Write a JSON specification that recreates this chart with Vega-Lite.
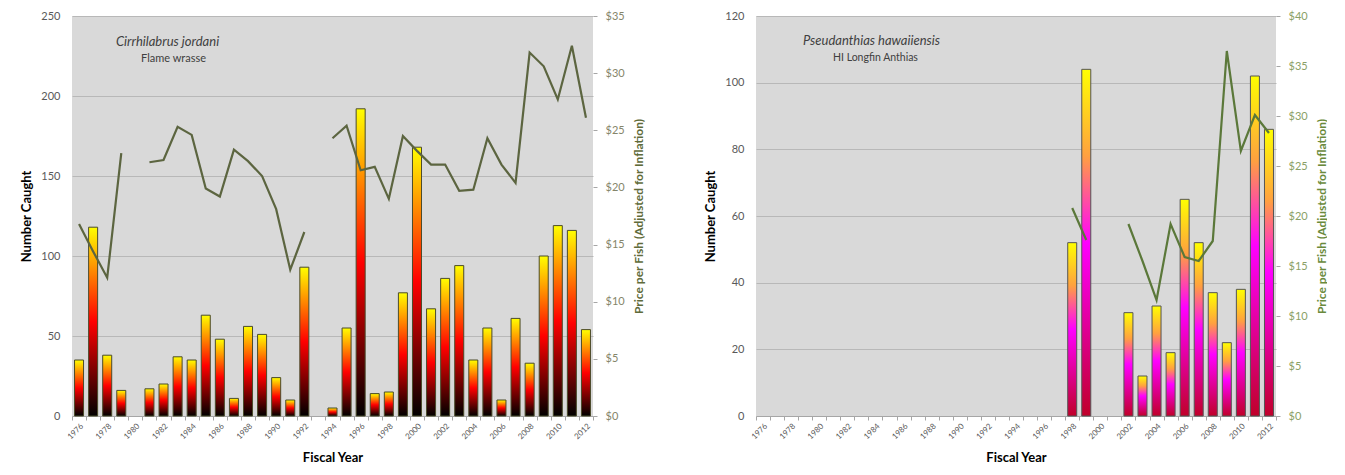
{
  "$schema": "https://vega.github.io/schema/vega-lite/v6.json",
  "background": "white",
  "padding": {"left": 20, "top": 10, "right": 0, "bottom": 0},
  "config": {
    "font": "Lato",
    "view": {"fill": "#d9d9d9", "stroke": null},
    "concat": {"spacing": 60}
  },
  "datasets": {
    "flame": [
      {"year": 1976, "count": 35, "price": 16.8},
      {"year": 1977, "count": 118, "price": 14.4},
      {"year": 1978, "count": 38, "price": 12.1},
      {"year": 1979, "count": 16, "price": 23.0},
      {"year": 1980, "count": null, "price": null},
      {"year": 1981, "count": 17, "price": 22.2},
      {"year": 1982, "count": 20, "price": 22.4},
      {"year": 1983, "count": 37, "price": 25.3},
      {"year": 1984, "count": 35, "price": 24.6},
      {"year": 1985, "count": 63, "price": 19.9},
      {"year": 1986, "count": 48, "price": 19.2},
      {"year": 1987, "count": 11, "price": 23.3},
      {"year": 1988, "count": 56, "price": 22.3},
      {"year": 1989, "count": 51, "price": 21.0},
      {"year": 1990, "count": 24, "price": 18.1},
      {"year": 1991, "count": 10, "price": 12.8},
      {"year": 1992, "count": 93, "price": 16.1},
      {"year": 1993, "count": null, "price": null},
      {"year": 1994, "count": 5, "price": 24.3},
      {"year": 1995, "count": 55, "price": 25.4},
      {"year": 1996, "count": 192, "price": 21.5},
      {"year": 1997, "count": 14, "price": 21.8},
      {"year": 1998, "count": 15, "price": 19.0},
      {"year": 1999, "count": 77, "price": 24.5},
      {"year": 2000, "count": 168, "price": 23.2},
      {"year": 2001, "count": 67, "price": 22.0},
      {"year": 2002, "count": 86, "price": 22.0},
      {"year": 2003, "count": 94, "price": 19.7},
      {"year": 2004, "count": 35, "price": 19.8},
      {"year": 2005, "count": 55, "price": 24.3},
      {"year": 2006, "count": 10, "price": 22.0},
      {"year": 2007, "count": 61, "price": 20.4},
      {"year": 2008, "count": 33, "price": 31.8},
      {"year": 2009, "count": 100, "price": 30.6},
      {"year": 2010, "count": 119, "price": 27.7},
      {"year": 2011, "count": 116, "price": 32.4},
      {"year": 2012, "count": 54, "price": 26.1}
    ],
    "longfin": [
      {"year": 1976, "count": null, "price": null},
      {"year": 1977, "count": null, "price": null},
      {"year": 1978, "count": null, "price": null},
      {"year": 1979, "count": null, "price": null},
      {"year": 1980, "count": null, "price": null},
      {"year": 1981, "count": null, "price": null},
      {"year": 1982, "count": null, "price": null},
      {"year": 1983, "count": null, "price": null},
      {"year": 1984, "count": null, "price": null},
      {"year": 1985, "count": null, "price": null},
      {"year": 1986, "count": null, "price": null},
      {"year": 1987, "count": null, "price": null},
      {"year": 1988, "count": null, "price": null},
      {"year": 1989, "count": null, "price": null},
      {"year": 1990, "count": null, "price": null},
      {"year": 1991, "count": null, "price": null},
      {"year": 1992, "count": null, "price": null},
      {"year": 1993, "count": null, "price": null},
      {"year": 1994, "count": null, "price": null},
      {"year": 1995, "count": null, "price": null},
      {"year": 1996, "count": null, "price": null},
      {"year": 1997, "count": null, "price": null},
      {"year": 1998, "count": 52, "price": 20.8},
      {"year": 1999, "count": 104, "price": 17.6},
      {"year": 2000, "count": null, "price": null},
      {"year": 2001, "count": null, "price": null},
      {"year": 2002, "count": 31, "price": 19.2},
      {"year": 2003, "count": 12, "price": 15.5},
      {"year": 2004, "count": 33, "price": 11.6},
      {"year": 2005, "count": 19, "price": 19.2},
      {"year": 2006, "count": 65, "price": 15.9},
      {"year": 2007, "count": 52, "price": 15.5},
      {"year": 2008, "count": 37, "price": 17.5},
      {"year": 2009, "count": 22, "price": 36.5},
      {"year": 2010, "count": 38, "price": 26.5},
      {"year": 2011, "count": 102, "price": 30.1},
      {"year": 2012, "count": 86, "price": 28.3}
    ]
  },
  "hconcat": [
    {
      "width": 521,
      "height": 400,
      "data": {"name": "flame"},
      "layer": [
        {
          "mark": {
            "type": "bar",
            "width": {"band": 0.64},
            "stroke": "#4b4b2b",
            "strokeWidth": 1,
            "fill": {
              "gradient": "linear",
              "x1": 0, "y1": 0, "x2": 0, "y2": 1,
              "stops": [
                {"offset": 0, "color": "#ffff00"},
                {"offset": 0.5, "color": "#ff0000"},
                {"offset": 1, "color": "#000000"}
              ]
            }
          },
          "encoding": {
            "x": {
              "field": "year",
              "type": "ordinal",
              "scale": {"paddingInner": 0, "paddingOuter": 0},
              "axis": {
                "title": "Fiscal Year",
                "titleFontSize": 13,
                "titleFontWeight": "bold",
                "titleColor": "#000000",
                "titlePadding": 11,
                "labelAngle": -45,
                "labelFontSize": 8,
                "labelColor": "#595959",
                "labelPadding": 2,
                "labelExpr": "datum.value % 2 == 0 ? datum.label : ''",
                "tickBand": "extent",
                "tickSize": 4,
                "tickColor": "#a6a6a6",
                "domainColor": "#a6a6a6",
                "grid": false
              }
            },
            "y": {
              "field": "count",
              "type": "quantitative",
              "scale": {"domain": [0, 250]},
              "axis": {
                "orient": "left",
                "title": "Number Caught",
                "titleFontSize": 13,
                "titleFontWeight": "bold",
                "titleColor": "#000000",
                "titlePadding": 5,
                "minExtent": 34,
                "maxExtent": 34,
                "values": [0, 50, 100, 150, 200, 250],
                "labelColor": "#595959",
                "labelFontSize": 11,
                "labelPadding": 12,
                "ticks": false,
                "domain": false,
                "grid": true,
                "gridColor": "#b8b8b8"
              }
            }
          }
        },
        {
          "data": {"values": [{"year": 1982, "count": 234, "label": "Cirrhilabrus jordani"}]},
          "mark": {"type": "text", "fontStyle": "italic", "fontSize": 13, "color": "#404040", "dx": 4},
          "encoding": {
            "x": {"field": "year", "type": "ordinal"},
            "y": {"field": "count", "type": "quantitative", "scale": {"domain": [0, 250]}, "axis": null},
            "text": {"field": "label"}
          }
        },
        {
          "data": {"values": [{"year": 1982, "count": 223, "label": "Flame wrasse"}]},
          "mark": {"type": "text", "fontSize": 11, "color": "#404040", "dx": 10},
          "encoding": {
            "x": {"field": "year", "type": "ordinal"},
            "y": {"field": "count", "type": "quantitative", "scale": {"domain": [0, 250]}, "axis": null},
            "text": {"field": "label"}
          }
        },
        {
          "mark": {"type": "line", "color": "#5c6540", "strokeWidth": 2.2, "invalid": "break-paths-show-domains"},
          "encoding": {
            "x": {"field": "year", "type": "ordinal"},
            "y": {
              "field": "price",
              "type": "quantitative",
              "scale": {"domain": [0, 35]},
              "axis": {
                "orient": "right",
                "title": "Price per Fish (Adjusted for Inflation)",
                "titleFontSize": 12,
                "titleFontWeight": "bold",
                "titleColor": "#5f6b3a",
                "titleAngle": 270,
                "titleBaseline": "top",
                "titlePadding": 4,
                "minExtent": 36,
                "maxExtent": 36,
                "format": "$.0f",
                "values": [0, 5, 10, 15, 20, 25, 30, 35],
                "labelColor": "#85856a",
                "labelFontSize": 11,
                "labelPadding": 8,
                "tickSize": 4,
                "tickColor": "#a6a6a6",
                "domain": false,
                "grid": false
              }
            }
          }
        }
      ],
      "resolve": {"scale": {"y": "independent"}}
    },
    {
      "width": 520,
      "height": 400,
      "data": {"name": "longfin"},
      "layer": [
        {
          "mark": {
            "type": "bar",
            "width": {"band": 0.64},
            "stroke": "#555555",
            "strokeWidth": 1,
            "fill": {
              "gradient": "linear",
              "x1": 0, "y1": 0, "x2": 0, "y2": 1,
              "stops": [
                {"offset": 0, "color": "#ffff00"},
                {"offset": 0.25, "color": "#ffa040"},
                {"offset": 0.5, "color": "#ff00ff"},
                {"offset": 1, "color": "#c0002a"}
              ]
            }
          },
          "encoding": {
            "x": {
              "field": "year",
              "type": "ordinal",
              "scale": {"paddingInner": 0, "paddingOuter": 0},
              "axis": {
                "title": "Fiscal Year",
                "titleFontSize": 13,
                "titleFontWeight": "bold",
                "titleColor": "#000000",
                "titlePadding": 11,
                "labelAngle": -45,
                "labelFontSize": 8,
                "labelColor": "#595959",
                "labelPadding": 2,
                "labelExpr": "datum.value % 2 == 0 ? datum.label : ''",
                "tickBand": "extent",
                "tickSize": 4,
                "tickColor": "#a6a6a6",
                "domainColor": "#a6a6a6",
                "grid": false
              }
            },
            "y": {
              "field": "count",
              "type": "quantitative",
              "scale": {"domain": [0, 120]},
              "axis": {
                "orient": "left",
                "title": "Number Caught",
                "titleFontSize": 13,
                "titleFontWeight": "bold",
                "titleColor": "#000000",
                "titlePadding": 5,
                "minExtent": 34,
                "maxExtent": 34,
                "values": [0, 20, 40, 60, 80, 100, 120],
                "labelColor": "#595959",
                "labelFontSize": 11,
                "labelPadding": 12,
                "ticks": false,
                "domain": false,
                "grid": true,
                "gridColor": "#b8b8b8"
              }
            }
          }
        },
        {
          "data": {"values": [{"year": 1984, "count": 112.5, "label": "Pseudanthias hawaiiensis"}]},
          "mark": {"type": "text", "fontStyle": "italic", "fontSize": 13, "color": "#404040", "dx": -4},
          "encoding": {
            "x": {"field": "year", "type": "ordinal"},
            "y": {"field": "count", "type": "quantitative", "scale": {"domain": [0, 120]}, "axis": null},
            "text": {"field": "label"}
          }
        },
        {
          "data": {"values": [{"year": 1984, "count": 107.3, "label": "HI Longfin Anthias"}]},
          "mark": {"type": "text", "fontSize": 10.5, "color": "#404040"},
          "encoding": {
            "x": {"field": "year", "type": "ordinal"},
            "y": {"field": "count", "type": "quantitative", "scale": {"domain": [0, 120]}, "axis": null},
            "text": {"field": "label"}
          }
        },
        {
          "mark": {"type": "line", "color": "#5b783a", "strokeWidth": 2.2, "invalid": "break-paths-show-domains"},
          "encoding": {
            "x": {"field": "year", "type": "ordinal"},
            "y": {
              "field": "price",
              "type": "quantitative",
              "scale": {"domain": [0, 40]},
              "axis": {
                "orient": "right",
                "title": "Price per Fish (Adjusted for Inflation)",
                "titleFontSize": 12,
                "titleFontWeight": "bold",
                "titleColor": "#6a8a3c",
                "titleAngle": 270,
                "titleBaseline": "top",
                "titlePadding": 4,
                "minExtent": 36,
                "maxExtent": 36,
                "format": "$.0f",
                "values": [0, 5, 10, 15, 20, 25, 30, 35, 40],
                "labelColor": "#8aa066",
                "labelFontSize": 11,
                "labelPadding": 8,
                "tickSize": 4,
                "tickColor": "#a6a6a6",
                "domain": false,
                "grid": false
              }
            }
          }
        }
      ],
      "resolve": {"scale": {"y": "independent"}}
    }
  ]
}
